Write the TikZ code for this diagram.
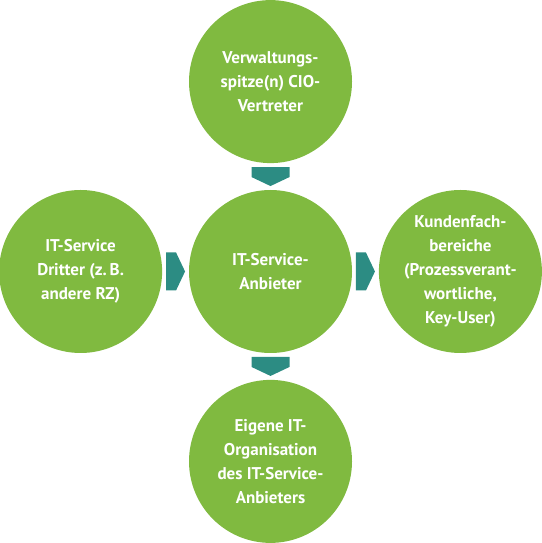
\documentclass[tikz,border=0pt]{standalone}
\usepackage{fontspec}
\setmainfont{PT Sans}
\usepackage{tikz}
\usetikzlibrary{positioning,calc}

\definecolor{rolegreen}{RGB}{128,186,64}
\definecolor{flowteal}{RGB}{44,140,131}

\tikzset{
    role/.style={circle, fill=rolegreen, minimum size=163pt, inner sep=0pt,
        text=white, align=center, font=\bfseries\fontsize{17}{24}\selectfont},
}

\begin{document}
\begin{tikzpicture}[x=1pt,y=1pt,node distance=26.5pt]

    \useasboundingbox (0,0) rectangle (541,543);

    \node[role] (provider) at (270.5,271.5) {IT-Service-\\Anbieter};
    \node[role,above=of provider] (admin) {Verwaltungs-\\spitze(n) CIO-\\Vertreter};
    \node[role,left=of provider] (third) {IT-Service\\Dritter (z.\,B.\\andere RZ)};
    \node[role,right=of provider] (client) {Kundenfach-\\bereiche\\(Prozessverant-\\wortliche,\\Key-User)};
    \node[role,below=of provider] (ownit) {Eigene IT-\\Organisation\\des IT-Service-\\Anbieters};

    \foreach \from/\to/\angle in {admin.south/provider.north/-90,
                                  third.east/provider.west/0,
                                  provider.east/client.west/0,
                                  provider.south/ownit.north/-90}{%
        \fill[flowteal, shift={($(\from)!.5!(\to)$)}, rotate=\angle]
            (-9.5,-19) -- (0.5,-19) -- (9.5,0) -- (0.5,19) -- (-9.5,19) -- cycle;
    }
\end{tikzpicture}
\end{document}
